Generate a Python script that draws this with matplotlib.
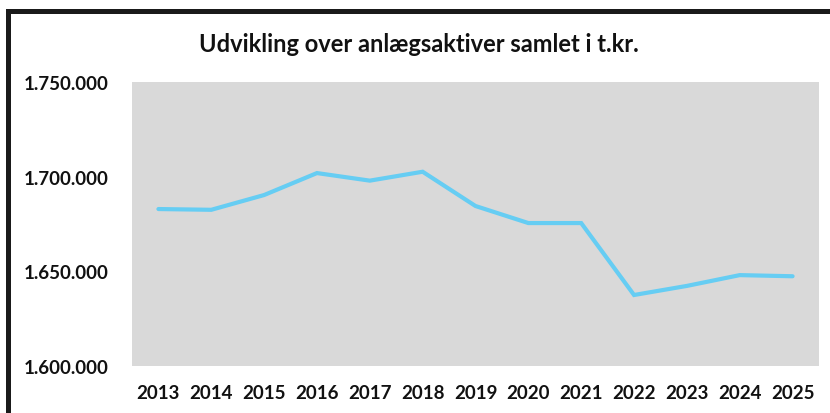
import matplotlib
matplotlib.use("Agg")
import matplotlib.pyplot as plt
from matplotlib.patches import Rectangle
from matplotlib.ticker import FuncFormatter, MultipleLocator

# values in t.kr.
years = ["2013", "2014", "2015", "2016", "2017", "2018", "2019",
         "2020", "2021", "2022", "2023", "2024", "2025"]
assets = [1682900, 1682500, 1690300, 1701900, 1697900, 1702600, 1684500,
          1675500, 1675500, 1637500, 1642300, 1648000, 1647400]

TITLE = "Udvikling over anlægsaktiver samlet i t.kr."
LINE_COLOR = "#66CDF3"
PLOT_BG = "#D9D9D9"

plt.rcParams["font.family"] = ["Lato", "DejaVu Sans"]

W, H = 830, 414
fig = plt.figure(figsize=(W / 100, H / 100), dpi=100)
ax = fig.add_axes([132 / W, (H - 367) / H, 687 / W, 284 / H])

ax.plot(range(len(years)), assets, color=LINE_COLOR, linewidth=3.0,
        solid_capstyle="round", solid_joinstyle="miter")

ax.set_facecolor(PLOT_BG)
ax.set_xlim(-0.5, len(years) - 0.5)
ax.set_ylim(1600000, 1750000)
ax.yaxis.set_major_locator(MultipleLocator(50000))
ax.yaxis.set_major_formatter(
    FuncFormatter(lambda v, _: f"{v:,.0f}".replace(",", ".")))
ax.set_xticks(range(len(years)))
ax.set_xticklabels(years)

for side in ax.spines.values():
    side.set_visible(False)
ax.tick_params(axis="y", length=0, pad=16.5, labelsize=13.5)
ax.tick_params(axis="x", length=0, pad=13, labelsize=13.5)
for lab in ax.get_xticklabels() + ax.get_yticklabels():
    lab.set_fontweight("bold")
    lab.set_color("#111111")

fig.text(419 / W, 1 - 45 / H, TITLE, ha="center", va="center",
         fontsize=17, fontweight="bold", color="#111111")

# black frame on the left and top (chart border, cropped at right/bottom)
fig.patches.append(Rectangle((7.5 / W, -0.1), 1.2, 1.1 - 12.5 / H,
                             transform=fig.transFigure, fill=False,
                             edgecolor="#1a1a1a", linewidth=3.6,
                             clip_on=False))

fig.savefig("out.png", dpi=100)
